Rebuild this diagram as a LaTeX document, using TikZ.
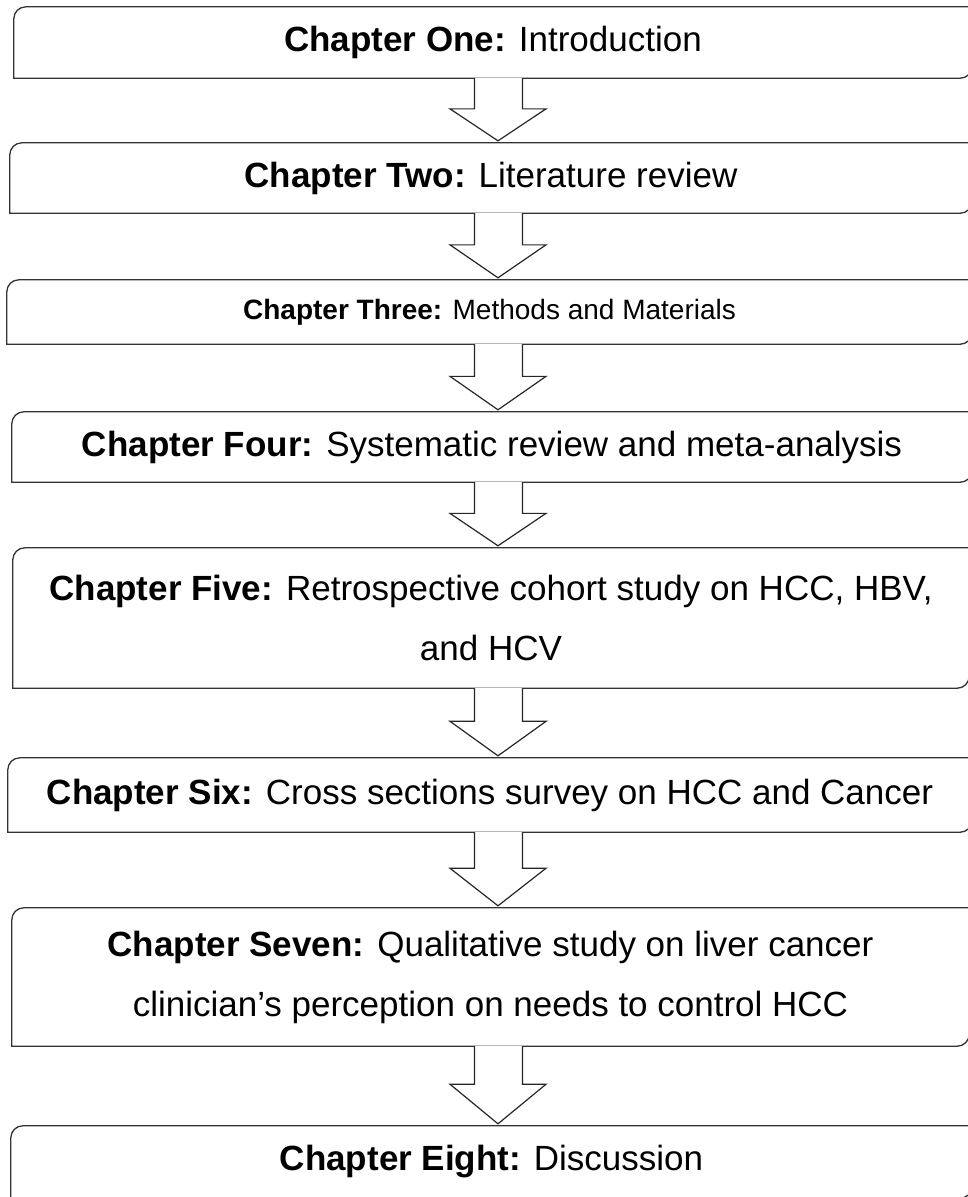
\documentclass[tikz,border=0pt]{standalone}
\usepackage{fontspec}
\setmainfont{Liberation Sans}
\usetikzlibrary{calc}
\tikzset{
  chapnode/.style={draw=none, inner sep=0pt, align=center, text=black,
    font=\fontsize{35}{60}\selectfont},
  boxline/.style={draw=black!80, line width=1.3pt},
  arrowline/.style={draw=black!85, line width=1.2pt, fill=white, line join=miter},
}
% #2 name, #3 left, #4 right, #5 top, #6 bottom, #7 text
\newcommand\chapbox[7][]{%
  \node[chapnode, #1, minimum width={(#4-#3)*1pt}, minimum height={(#6-#5)*1pt}]
     (#2) at ({(#4+#3)/2*1pt}, {-(#5+#6)/2*1pt}) {#7};
  \draw[boxline] (#2.south west) -- ([yshift=-12pt]#2.north west)
     arc[start angle=180, end angle=90, radius=12pt] -- (#2.north east)
     -- ([yshift=12pt]#2.south east)
     arc[start angle=0, end angle=-90, radius=12pt] -- cycle;
}
\newcommand\blockarrow[2]{%
  \draw[arrowline] let \p1=(#1.south), \p2=(#2.north),
     \n1={\y1}, \n2={\y2+2pt}, \n3={\y1+0.49*(\y2+2pt-\y1)} in
     (474.5pt,\n1) -- (474.5pt,\n3) -- (450pt,\n3) -- (498pt,\n2)
     -- (546pt,\n3) -- (522.5pt,\n3) -- (522.5pt,\n1);
}
\begin{document}
\begin{tikzpicture}[x=1pt,y=1pt]
\useasboundingbox (0,0) rectangle (967,-1197);
\chapbox{b1}{14}{972}{7}{78}{\textbf{Chapter One:} Introduction}
\chapbox{b2}{10}{972}{143}{213}{\textbf{Chapter Two:} Literature review}
\chapbox[font=\fontsize{28}{40}\selectfont]{b3}{7}{972}{280}{344}{\textbf{Chapter Three:} Methods and Materials}
\chapbox{b4}{12}{972}{412}{482}{\textbf{Chapter Four:} Systematic review and meta-analysis}
\chapbox{b5}{13}{969}{548}{688}{\textbf{Chapter Five:} Retrospective cohort study on HCC, HBV,\\and HCV}
\chapbox{b6}{8}{972}{758}{832}{\textbf{Chapter Six:} Cross sections survey on HCC and Cancer}
\chapbox{b7}{12}{969}{908}{1046}{\textbf{Chapter Seven:} Qualitative study on liver cancer\\clinician’s perception on needs to control HCC}
\chapbox{b8}{11}{972}{1126}{1198}{\textbf{Chapter Eight:} Discussion}
\blockarrow{b1}{b2}
\blockarrow{b2}{b3}
\blockarrow{b3}{b4}
\blockarrow{b4}{b5}
\blockarrow{b5}{b6}
\blockarrow{b6}{b7}
\blockarrow{b7}{b8}
\end{tikzpicture}
\end{document}
